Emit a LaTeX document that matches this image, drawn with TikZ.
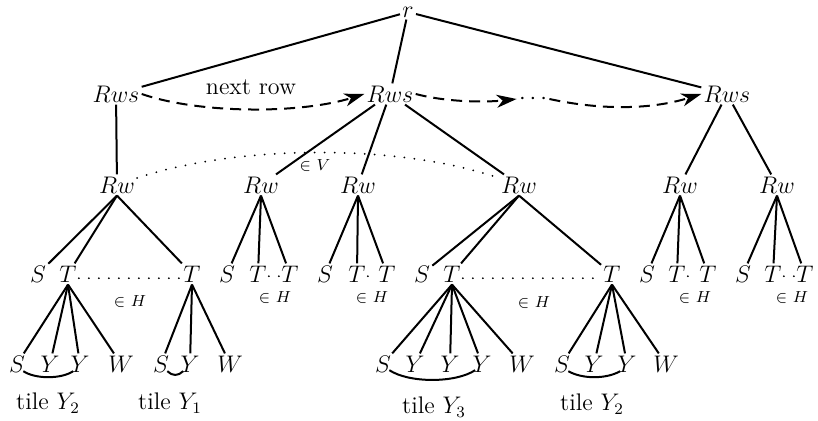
\documentclass[tikz,border=0pt]{standalone}
\usetikzlibrary{arrows.meta,calc}
\begin{document}
\begin{tikzpicture}[x=0.5pt,y=-0.5pt,
  lbl/.style={inner sep=1pt,font=\fontsize{12}{14}\selectfont},
  sml/.style={inner sep=1pt,font=\fontsize{8}{9}\selectfont},
  edge/.style={line width=1pt},
  dsh/.style={line width=1pt,dash pattern=on 5.5pt off 3.5pt,-{Stealth[length=10pt,width=6.5pt,inset=3pt]}},
  dtt/.style={line width=1pt,line cap=round,dash pattern=on 0pt off 5pt}]
\useasboundingbox (0,0) rectangle (818,421);
% top
\node[lbl] (r) at (408,12) {$r$};
\node[lbl] (a1) at (116,94) {$Rws$};
\node[lbl] (a2) at (390,94) {$Rws$};
\node[lbl] (a3) at (727,94) {$Rws$};
\node[lbl] (dots) at (533,99) {$\cdots$};
\node[lbl] (nr) at (251,87) {next row};
% Rw level
\node[lbl] (b1) at (117,185) {$Rw$};
\node[lbl] (b2) at (261,185) {$Rw$};
\node[lbl] (b3) at (358,185) {$Rw$};
\node[lbl] (b4) at (519,185) {$Rw$};
\node[lbl] (b5) at (680,185) {$Rw$};
\node[lbl] (b6) at (777,185) {$Rw$};
% S T level
\node[lbl] (c1) at (38,274) {$S$};
\node[lbl] (c2) at (68,274) {$T$};
\node[lbl] (c3) at (192,274) {$T$};
\node[lbl] (c4) at (227,274) {$S$};
\node[lbl] (c5) at (258,274) {$T$};
\node[lbl] (c6) at (290,274) {$T$};
\node[lbl] (c7) at (325,274) {$S$};
\node[lbl] (c8) at (357,274) {$T$};
\node[lbl] (c9) at (387,274) {$T$};
\node[lbl] (c10) at (422,274) {$S$};
\node[lbl] (c11) at (452,274) {$T$};
\node[lbl] (c12) at (612,274) {$T$};
\node[lbl] (c13) at (647,274) {$S$};
\node[lbl] (c14) at (677,274) {$T$};
\node[lbl] (c15) at (708,274) {$T$};
\node[lbl] (c16) at (743,274) {$S$};
\node[lbl] (c17) at (773,274) {$T$};
\node[lbl] (c18) at (805,274) {$T$};
% bottom level
\node[lbl] (d1) at (17,364) {$S$};
\node[lbl] (d2) at (50,364) {$Y$};
\node[lbl] (d3) at (80,364) {$Y$};
\node[lbl] (d4) at (121,364) {$W$};
\node[lbl] (d5) at (161,364) {$S$};
\node[lbl] (d6) at (190,364) {$Y$};
\node[lbl] (d7) at (230,364) {$W$};
\node[lbl] (d8) at (383,364) {$S$};
\node[lbl] (d9) at (415,364) {$Y$};
\node[lbl] (d10) at (450,364) {$Y$};
\node[lbl] (d11) at (482,364) {$Y$};
\node[lbl] (d12) at (522,364) {$W$};
\node[lbl] (d13) at (562,364) {$S$};
\node[lbl] (d14) at (594,364) {$Y$};
\node[lbl] (d15) at (627,364) {$Y$};
\node[lbl] (d16) at (666,364) {$W$};
% tile labels
\node[lbl] (t1) at (48,403) {tile $Y_2$};
\node[lbl] (t2) at (170,403) {tile $Y_1$};
\node[lbl] (t3) at (434,407) {tile $Y_3$};
\node[lbl] (t4) at (592,404) {tile $Y_2$};
% small labels
\node[sml] (v) at (315,166) {$\in$~$V$};
\node[sml] (h1) at (130,302) {$\in$~$H$};
\node[sml] (h2) at (275,298) {$\in$~$H$};
\node[sml] (h3) at (372,298) {$\in$~$H$};
\node[sml] (h4) at (534,303) {$\in$~$H$};
\node[sml] (h5) at (695,298) {$\in$~$H$};
\node[sml] (h6) at (792,298) {$\in$~$H$};
% edges
\draw[edge] (r) -- (a1);
\draw[edge] (r) -- (a2);
\draw[edge] (r) -- (a3);
\draw[edge] (a1) -- (b1);
\draw[edge] (a2) -- (b2);
\draw[edge] (a2) -- (b3);
\draw[edge] (a2) -- (b4);
\draw[edge] (a3) -- (b5);
\draw[edge] (a3) -- (b6);
\foreach \p/\c in {b1/c1,b1/c2,b1/c3,b2/c4,b2/c5,b2/c6,b3/c7,b3/c8,b3/c9,
  b4/c10,b4/c11,b4/c12,b5/c13,b5/c14,b5/c15,b6/c16,b6/c17,b6/c18,
  c2/d1,c2/d2,c2/d3,c2/d4,c3/d5,c3/d6,c3/d7,
  c11/d8,c11/d9,c11/d10,c11/d11,c11/d12,c12/d13,c12/d14,c12/d15,c12/d16}
  \draw[edge] (\p.south) -- (\c);
% dashed arrows
\draw[dsh] (a1.east) .. controls (200,114) and (300,114) .. (a2.west);
\draw[dsh] (a2.east) .. controls (450,103) and (490,102) .. (dots.west);
\draw[dsh] (dots.east) .. controls (600,110) and (650,110) .. (a3.west);
% dotted relations
\draw[dtt] ($(b1.east)+(0,-7)$) .. controls (240,144) and (400,144) .. ($(b4.west)+(0,-7)$);
\draw[dtt] ($(c2.base east)+(0,-4)$) -- ($(c3.base west)+(0,-4)$);
\draw[dtt] ($(c11.base east)+(0,-4)$) -- ($(c12.base west)+(0,-4)$);
\draw[dtt] ($(c5.base east)+(0,-6)$) -- ($(c6.base west)+(0,-6)$);
\draw[dtt] ($(c8.base east)+(0,-6)$) -- ($(c9.base west)+(0,-6)$);
\draw[dtt] ($(c14.base east)+(0,-6)$) -- ($(c15.base west)+(0,-6)$);
\draw[dtt] ($(c17.base east)+(0,-6)$) -- ($(c18.base west)+(0,-6)$);
% tile arcs
\draw[edge] ($(d1.base east)+(-4,-1)$) .. controls +(12,8) and +(-12,8) .. ($(d3.base west)+(5,-1)$);
\draw[edge] ($(d5.base east)+(-4,-1)$) .. controls +(5,5) and +(-5,5) .. ($(d6.base west)+(5,-1)$);
\draw[edge] ($(d8.base east)+(-4,-2)$) .. controls +(20,13) and +(-20,13) .. ($(d11.base west)+(5,-2)$);
\draw[edge] ($(d13.base east)+(-4,-1)$) .. controls +(14,8) and +(-14,8) .. ($(d15.base west)+(5,-1)$);
\end{tikzpicture}
\end{document}
